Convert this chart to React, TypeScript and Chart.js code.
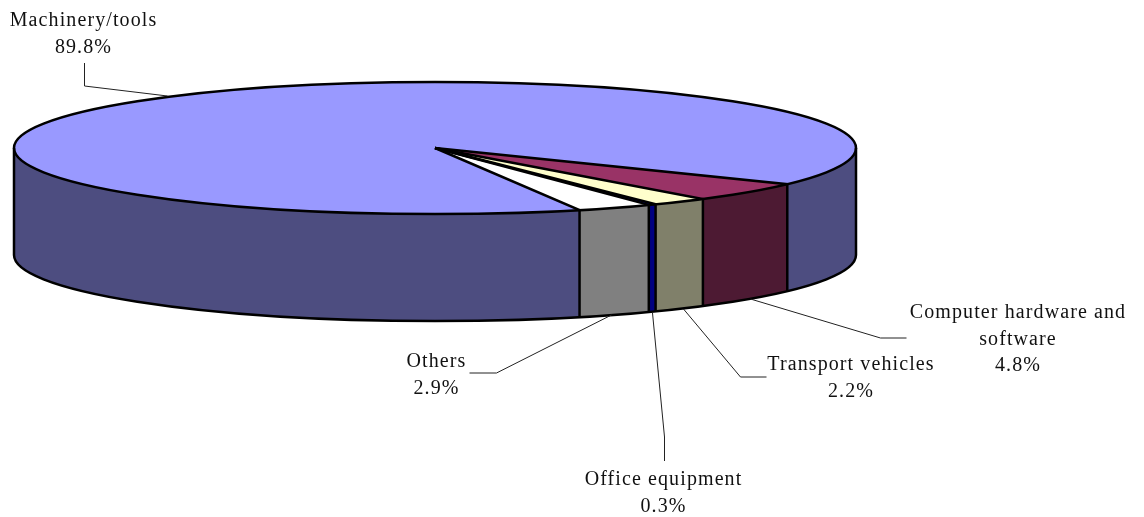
import React, { useEffect, useRef } from "react";
import { Chart, registerables } from "chart.js";

Chart.register(...registerables);

// Data
const categories = ["Computer hardware and software", "Transport vehicles", "Office equipment", "Others", "Machinery/tools"];
const shares = [4.8, 2.2, 0.3, 2.9, 89.8];
const shareLabels = ["4.8%", "2.2%", "0.3%", "2.9%", "89.8%"];

// Styles
const topColors = ["#993366", "#FFFFCC", "#0000FF", "#FFFFFF", "#9999FF"];
const wallColors = ["#4D1A33", "#80806A", "#000080", "#808080", "#4D4D80"];

// Layout
const WIDTH = 1144;
const HEIGHT = 517;
const CENTER_X = 435;
const CENTER_Y = 148;
const RADIUS_X = 421;
const RADIUS_Y = 66;
const DEPTH = 107;
const START_ROTATION = 123.2;
const OUTLINE = 2.5;
const FONT = '20px "Liberation Serif", serif';
const LETTER_SPACING = "1.1px";
const LINE_HEIGHT = 26.5;

const labelLines = [
  ["Computer hardware and", "software", shareLabels[0]],
  [categories[1], shareLabels[1]],
  [categories[2], shareLabels[2]],
  [categories[3], shareLabels[3]],
  [categories[4], shareLabels[4]],
];
const labelAnchors = [
  { x: 1018, y: 318 },
  { x: 851, y: 370 },
  { x: 663.5, y: 485 },
  { x: 436.5, y: 367 },
  { x: 83.5, y: 26 },
];
const leaders = [
  [[750, 299], [880, 338], [906, 338]],
  [[683, 309], [740, 377], [766, 377]],
  [[652, 313], [664, 437], [664, 461]],
  [[611, 315], [496, 373], [469, 373]],
  [[167, 96], [84, 86], [84, 63]],
];

const TWO_PI = Math.PI * 2;

const pie3d = {
  id: "pie3d",
  beforeDatasetsDraw(chart: any) {
    const ctx = chart.ctx;
    const arcs = chart.getDatasetMeta(0).data;
    const { x, y, outerRadius } = arcs[0];

    arcs.forEach((arc: any, i: number) => {
      for (const offset of [0, TWO_PI]) {
        const a = Math.max(arc.startAngle, offset);
        const b = Math.min(arc.endAngle, offset + Math.PI);
        if (b <= a) continue;
        ctx.beginPath();
        ctx.ellipse(CENTER_X, CENTER_Y, RADIUS_X, RADIUS_Y, 0, a, b);
        ctx.ellipse(CENTER_X, CENTER_Y + DEPTH, RADIUS_X, RADIUS_Y, 0, b, a, true);
        ctx.closePath();
        ctx.fillStyle = wallColors[i];
        ctx.fill();
      }
    });

    ctx.save();
    ctx.translate(CENTER_X, CENTER_Y);
    ctx.scale(RADIUS_X / outerRadius, RADIUS_Y / outerRadius);
    ctx.translate(-x, -y);
  },
  afterDatasetsDraw(chart: any) {
    const ctx = chart.ctx;
    ctx.restore();
    const arcs = chart.getDatasetMeta(0).data;

    ctx.save();
    ctx.strokeStyle = "#000";
    ctx.lineWidth = OUTLINE;

    ctx.beginPath();
    ctx.ellipse(CENTER_X, CENTER_Y, RADIUS_X, RADIUS_Y, 0, 0, TWO_PI);
    ctx.stroke();

    ctx.beginPath();
    ctx.ellipse(CENTER_X, CENTER_Y + DEPTH, RADIUS_X, RADIUS_Y, 0, 0, Math.PI);
    ctx.stroke();

    ctx.beginPath();
    ctx.moveTo(CENTER_X - RADIUS_X, CENTER_Y);
    ctx.lineTo(CENTER_X - RADIUS_X, CENTER_Y + DEPTH);
    ctx.moveTo(CENTER_X + RADIUS_X, CENTER_Y);
    ctx.lineTo(CENTER_X + RADIUS_X, CENTER_Y + DEPTH);
    ctx.stroke();

    arcs.forEach((arc: any) => {
      const px = CENTER_X + RADIUS_X * Math.cos(arc.startAngle);
      const py = CENTER_Y + RADIUS_Y * Math.sin(arc.startAngle);
      ctx.beginPath();
      ctx.moveTo(CENTER_X, CENTER_Y);
      ctx.lineTo(px, py);
      if (Math.sin(arc.startAngle) > 0) ctx.lineTo(px, py + DEPTH);
      ctx.stroke();
    });
    ctx.restore();

    ctx.save();
    ctx.strokeStyle = "#222";
    ctx.lineWidth = 1;
    leaders.forEach((points) => {
      ctx.beginPath();
      points.forEach(([px, py], i) => (i ? ctx.lineTo(px + 0.5, py) : ctx.moveTo(px + 0.5, py)));
      ctx.stroke();
    });

    ctx.fillStyle = "#111";
    ctx.font = FONT;
    ctx.letterSpacing = LETTER_SPACING;
    ctx.textAlign = "center";
    ctx.textBaseline = "alphabetic";
    labelLines.forEach((lines, i) => {
      lines.forEach((line, j) => {
        ctx.fillText(line, labelAnchors[i].x, labelAnchors[i].y + j * LINE_HEIGHT);
      });
    });
    ctx.restore();
  },
};

export default function App() {
  const ref = useRef<HTMLCanvasElement>(null);
  useEffect(() => {
    const chart = new Chart(ref.current!, {
      type: "pie",
      data: {
        labels: categories,
        datasets: [{ data: shares, backgroundColor: topColors, borderWidth: 0, clip: false }],
      },
      options: {
        animation: false,
        responsive: false,
        rotation: START_ROTATION,
        layout: {
          padding: {
            left: CENTER_X - RADIUS_X,
            right: WIDTH - CENTER_X - RADIUS_X,
            top: 0,
            bottom: HEIGHT - CENTER_Y * 2,
          },
        },
        plugins: { legend: { display: false }, tooltip: { enabled: false } },
      },
      plugins: [pie3d],
    } as any);
    return () => chart.destroy();
  }, []);
  return (
    <canvas
      ref={ref}
      width={WIDTH}
      height={HEIGHT}
      style={{ position: "absolute", left: 0, top: 0, width: WIDTH, height: HEIGHT }}
    />
  );
}
